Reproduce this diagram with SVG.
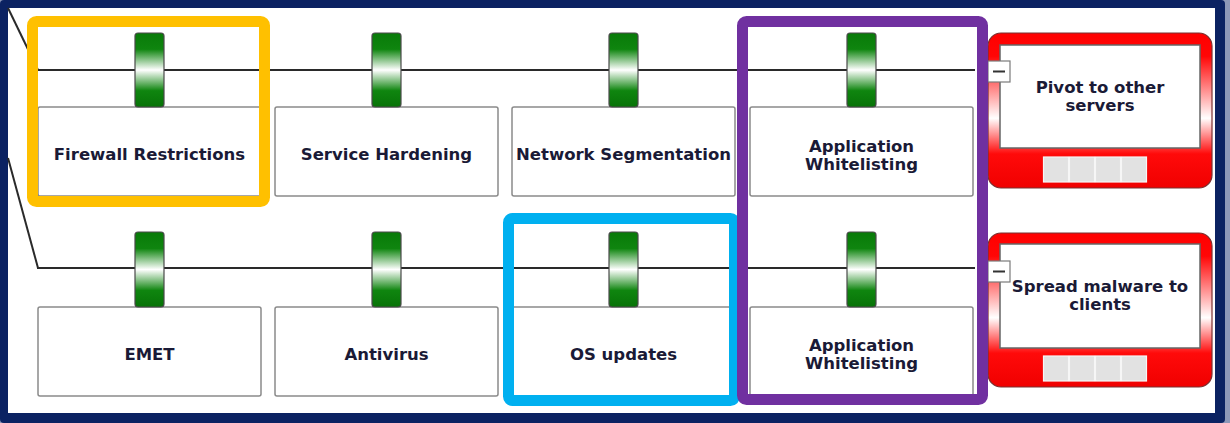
<svg xmlns="http://www.w3.org/2000/svg" width="1230" height="423" viewBox="0 0 1230 423">
  <defs>
    <linearGradient id="pillGrad" x1="0" y1="0" x2="0" y2="1">
      <stop offset="0" stop-color="#087a08"/>
      <stop offset="0.22" stop-color="#0f850f"/>
      <stop offset="0.5" stop-color="#ffffff"/>
      <stop offset="0.78" stop-color="#0f850f"/>
      <stop offset="1" stop-color="#077307"/>
    </linearGradient>
    <linearGradient id="goalGrad" x1="0" y1="0" x2="0" y2="1">
      <stop offset="0" stop-color="#ff0000"/>
      <stop offset="0.15" stop-color="#ff0606"/>
      <stop offset="0.55" stop-color="#ffffff"/>
      <stop offset="0.78" stop-color="#ff0a0a"/>
      <stop offset="1" stop-color="#f00000"/>
    </linearGradient>
    <style>
      .box { fill: #ffffff; stroke: #8a8a8a; stroke-width: 1.5; }
      .pill { fill: url(#pillGrad); stroke: #4a4a4a; stroke-width: 1.2; }
      .label { font-family: "DejaVu Sans", Verdana, sans-serif; font-weight: bold; font-size: 16.5px; fill: #1a1a36; text-anchor: middle; }
      .wire { stroke: #2a2a2a; stroke-width: 2; fill: none; }
      .goal { fill: url(#goalGrad); stroke: #7a3030; stroke-width: 1.2; }
      .goalInner { fill: #ffffff; stroke: #666666; stroke-width: 1.5; }
      .btn { fill: #e2e2e2; stroke: #f6f6f6; stroke-width: 1.2; }
      .tab { fill: #ffffff; stroke: #7a7a7a; stroke-width: 1.2; }
      .hl { fill: none; stroke-width: 11; }
    </style>
  </defs>

  <!-- frame -->
  <rect x="0" y="0" width="1230" height="423" fill="#8d98b8"/>
  <rect x="0" y="0" width="1225" height="423" rx="4" fill="#0b2262"/>
  <rect x="8" y="8" width="1207" height="405" fill="#ffffff"/>

  <!-- connectors -->
  <g id="connectors">
    <line class="wire" x1="8" y1="8" x2="38" y2="70"/>
    <line class="wire" x1="8" y1="158" x2="38" y2="268"/>
    <line class="wire" x1="37" y1="70" x2="262" y2="70"/>
    <line class="wire" x1="262" y1="70" x2="499" y2="70"/>
    <line class="wire" x1="499" y1="70" x2="737" y2="70"/>
    <line class="wire" x1="737" y1="70" x2="975" y2="70"/>
    <line class="wire" x1="37" y1="268" x2="262" y2="268"/>
    <line class="wire" x1="262" y1="268" x2="499" y2="268"/>
    <line class="wire" x1="499" y1="268" x2="737" y2="268"/>
    <line class="wire" x1="737" y1="268" x2="975" y2="268"/>
  </g>

  <!-- top row -->
  <g id="firewall-restrictions">
    <rect class="box" x="38" y="107" width="223" height="89" rx="2"/>
    <rect class="pill" x="135" y="33" width="29" height="74" rx="3"/>
    <text class="label" x="149.5" y="160">Firewall Restrictions</text>
  </g>
  <g id="service-hardening">
    <rect class="box" x="275" y="107" width="223" height="89" rx="2"/>
    <rect class="pill" x="372" y="33" width="29" height="74" rx="3"/>
    <text class="label" x="386.5" y="160">Service Hardening</text>
  </g>
  <g id="network-segmentation">
    <rect class="box" x="512" y="107" width="223" height="89" rx="2"/>
    <rect class="pill" x="609" y="33" width="29" height="74" rx="3"/>
    <text class="label" x="623.5" y="160">Network Segmentation</text>
  </g>
  <g id="app-whitelisting-top">
    <rect class="box" x="750" y="107" width="223" height="89" rx="2"/>
    <rect class="pill" x="847" y="33" width="29" height="74" rx="3"/>
    <text class="label" x="861.5" y="152">Application</text>
    <text class="label" x="861.5" y="170">Whitelisting</text>
  </g>

  <!-- bottom row -->
  <g id="emet">
    <rect class="box" x="38" y="307" width="223" height="89" rx="2"/>
    <rect class="pill" x="135" y="232" width="29" height="75" rx="3"/>
    <text class="label" x="149.5" y="360">EMET</text>
  </g>
  <g id="antivirus">
    <rect class="box" x="275" y="307" width="223" height="89" rx="2"/>
    <rect class="pill" x="372" y="232" width="29" height="75" rx="3"/>
    <text class="label" x="386.5" y="360">Antivirus</text>
  </g>
  <g id="os-updates">
    <rect class="box" x="512" y="307" width="223" height="89" rx="2"/>
    <rect class="pill" x="609" y="232" width="29" height="75" rx="3"/>
    <text class="label" x="623.5" y="360">OS updates</text>
  </g>
  <g id="app-whitelisting-bottom">
    <rect class="box" x="750" y="307" width="223" height="89" rx="2"/>
    <rect class="pill" x="847" y="232" width="29" height="75" rx="3"/>
    <text class="label" x="861.5" y="351">Application</text>
    <text class="label" x="861.5" y="369">Whitelisting</text>
  </g>

  <!-- goals -->
  <g id="pivot-to-other-servers">
    <rect class="goal" x="988" y="33" width="224" height="155" rx="13"/>
    <rect class="goalInner" x="1000" y="45" width="200" height="103"/>
    <rect class="tab" x="988" y="61" width="22" height="21"/>
    <line x1="993" y1="71.5" x2="1005" y2="71.5" stroke="#333333" stroke-width="2"/>
    <rect class="btn" x="1043.5" y="157" width="25" height="25"/>
    <rect class="btn" x="1069.5" y="157" width="25" height="25"/>
    <rect class="btn" x="1095.5" y="157" width="25" height="25"/>
    <rect class="btn" x="1121.5" y="157" width="25" height="25"/>
    <text class="label" x="1100" y="93">Pivot to other</text>
    <text class="label" x="1100" y="111">servers</text>
  </g>
  <g id="spread-malware-to-clients">
    <rect class="goal" x="988" y="233" width="224" height="154" rx="13"/>
    <rect class="goalInner" x="1000" y="244" width="200" height="104"/>
    <rect class="tab" x="988" y="261" width="22" height="21"/>
    <line x1="993" y1="271.5" x2="1005" y2="271.5" stroke="#333333" stroke-width="2"/>
    <rect class="btn" x="1043.5" y="356" width="25" height="25"/>
    <rect class="btn" x="1069.5" y="356" width="25" height="25"/>
    <rect class="btn" x="1095.5" y="356" width="25" height="25"/>
    <rect class="btn" x="1121.5" y="356" width="25" height="25"/>
    <text class="label" x="1100" y="292">Spread malware to</text>
    <text class="label" x="1100" y="310">clients</text>
  </g>

  <!-- highlight frames -->
  <g id="highlights">
    <rect class="hl" x="32.5" y="21.5" width="232" height="180" rx="4" stroke="#ffc000"/>
    <rect class="hl" x="508.5" y="218.5" width="226" height="182" rx="4" stroke="#00b0f0"/>
    <rect class="hl" x="742.5" y="21.5" width="240" height="378" rx="4" stroke="#7030a0"/>
  </g>
</svg>
